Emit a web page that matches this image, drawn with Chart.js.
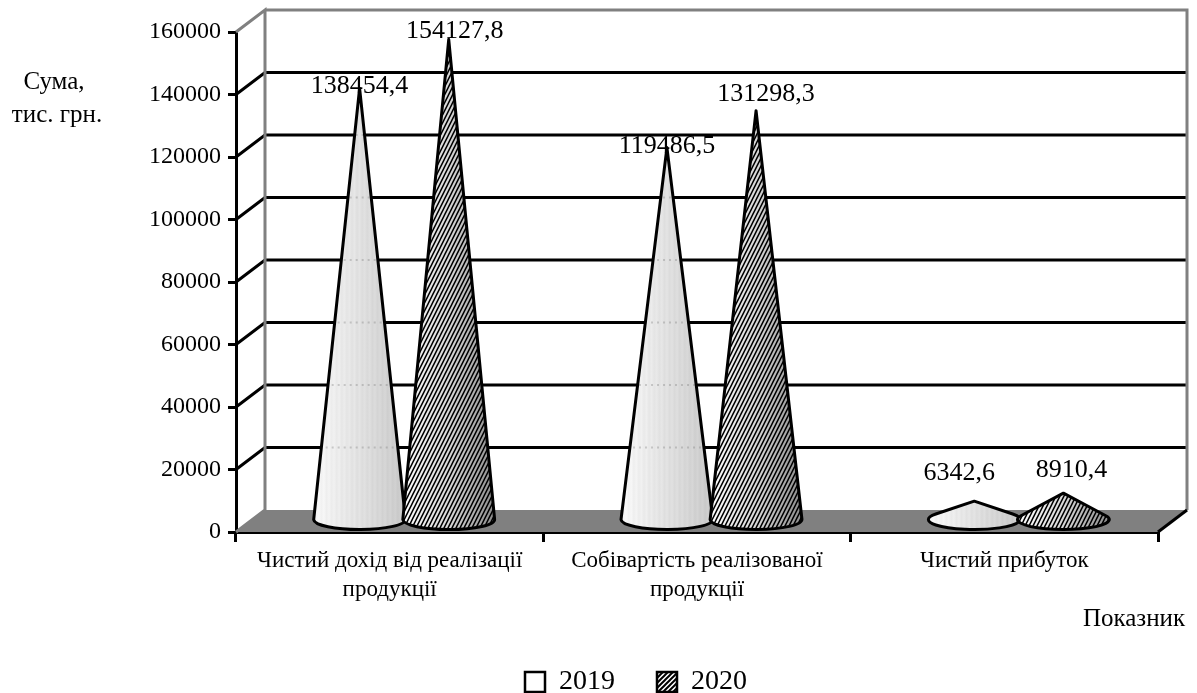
<!DOCTYPE html>
<html lang="uk">
<head>
<meta charset="UTF-8">
<title>Показники діяльності</title>
<script src="https://cdn.jsdelivr.net/npm/chart.js"></script>
<style>
    html, body { margin: 0; padding: 0; background: #fff; }
    #wrap { position: relative; width: 1197px; height: 693px; }
</style>
</head>
<body>
<div id="wrap"><canvas id="chart" width="1197" height="693"></canvas></div>
<script>
const categories = [
    ['Чистий дохід від реалізації', 'продукції'],
    ['Собівартість реалізованої', 'продукції'],
    'Чистий прибуток'
];
const years = ['2019', '2020'];
const values2019 = [138454.4, 119486.5, 6342.6];
const values2020 = [154127.8, 131298.3, 8910.4];
const yTicksMax = 160000;
const yTicksStep = 20000;

// where the value captions sit relative to the cone tip
const captionShift = [
    [[0, -2], [0, -1], [-15, -28]],
    [[6, -8], [10, -17], [8, -23]]
];

const SERIF = '"Liberation Serif", "Times New Roman", serif';
const DEPTH_X = 29, DEPTH_Y = 22;

function hatch(w, h, lineW) {
    const c = document.createElement('canvas');
    c.width = w;
    c.height = h;
    const g = c.getContext('2d');
    g.fillStyle = '#fff';
    g.fillRect(0, 0, w, h);
    g.strokeStyle = '#000';
    g.lineWidth = lineW;
    g.beginPath();
    g.moveTo(-w, 2 * h); g.lineTo(2 * w, -h);
    g.moveTo(-w, h); g.lineTo(w, -h);
    g.moveTo(0, 2 * h); g.lineTo(2 * w, 0);
    g.stroke();
    return c;
}

const ctx0 = document.getElementById('chart').getContext('2d');
const coneHatch = ctx0.createPattern(hatch(4, 8, 1.5), 'repeat');
const legendHatch = ctx0.createPattern(hatch(5, 5, 2), 'repeat');

// outline of a cone: sides run tangent to the base ellipse
function conePath(ctx, cx, tip, baseY, rx, ry) {
    const h = baseY - tip;
    const t = Math.asin(Math.min(ry / h, 1));
    ctx.beginPath();
    ctx.moveTo(cx, tip);
    ctx.ellipse(cx, baseY, rx, ry, 0, -t, Math.PI + t);
    ctx.closePath();
}

function drawCone(ctx, bar, dark, gridYs) {
    const cx = bar.x + DEPTH_X / 2;
    const tip = bar.y - DEPTH_Y / 2;
    const baseY = bar.base - DEPTH_Y / 2;
    const rx = bar.width / 2, ry = 10;
    const g = ctx.createLinearGradient(cx - rx, 0, cx + rx, 0);
    ctx.save();
    conePath(ctx, cx, tip, baseY, rx, ry);
    if (dark) {
        ctx.fillStyle = coneHatch;
        ctx.fill();
        g.addColorStop(0, 'rgba(0,0,0,0)');
        g.addColorStop(0.5, 'rgba(0,0,0,0.15)');
        g.addColorStop(1, 'rgba(0,0,0,0.45)');
    } else {
        // fine vertical banding of the shaded surface
        const bands = 36;
        for (let k = 0; k <= bands; k++) {
            const f = k / bands;
            const shade = Math.round(252 - 48 * f - (k % 2 ? 7 : 0));
            g.addColorStop(f, `rgb(${shade},${shade},${shade})`);
        }
    }
    ctx.fillStyle = g;
    ctx.fill();

    // wall lines showing faintly through the surface
    if (!dark) {
        ctx.save();
        ctx.clip();
        ctx.strokeStyle = 'rgba(110,110,110,0.3)';
        ctx.lineWidth = 2;
        ctx.setLineDash([2, 4]);
        gridYs.forEach(y => {
            ctx.beginPath();
            ctx.moveTo(cx - rx, y);
            ctx.lineTo(cx + rx, y);
            ctx.stroke();
        });
        ctx.restore();
    }

    conePath(ctx, cx, tip, baseY, rx, ry);
    ctx.strokeStyle = '#000';
    ctx.lineWidth = 3;
    ctx.lineJoin = 'round';
    ctx.stroke();
    ctx.restore();
}

function wallLines(y) {
    const out = [];
    for (let v = yTicksStep; v < yTicksMax; v += yTicksStep) {
        out.push(y.getPixelForValue(v) - DEPTH_Y);
    }
    return out;
}

// back wall, side wall and floor behind the cones
const roomPlugin = {
    id: 'room',
    beforeDraw(chart) {
        // legend row sits lower than its padded layout box
        chart.legend.top = 626;
    },
    beforeDatasetsDraw(chart) {
        const { ctx, chartArea: a, scales: { y } } = chart;
        const dx = DEPTH_X, dy = DEPTH_Y;
        ctx.save();

        ctx.fillStyle = '#808080';
        ctx.beginPath();
        ctx.moveTo(a.left, a.bottom);
        ctx.lineTo(a.left + dx, a.bottom - dy);
        ctx.lineTo(a.right + dx, a.bottom - dy);
        ctx.lineTo(a.right, a.bottom);
        ctx.closePath();
        ctx.fill();

        ctx.strokeStyle = '#000';
        ctx.lineWidth = 3;
        for (let v = yTicksStep; v < yTicksMax; v += yTicksStep) {
            const p = y.getPixelForValue(v);
            ctx.beginPath();
            ctx.moveTo(a.left, p);
            ctx.lineTo(a.left + dx, p - dy);
            ctx.lineTo(a.right + dx, p - dy);
            ctx.stroke();
        }

        ctx.strokeStyle = '#808080';
        ctx.beginPath();
        ctx.moveTo(a.left, a.bottom);
        ctx.lineTo(a.left + dx, a.bottom - dy);
        ctx.lineTo(a.left + dx, a.top - dy);
        ctx.lineTo(a.left, a.top);
        ctx.moveTo(a.left + dx, a.top - dy);
        ctx.lineTo(a.right + dx, a.top - dy);
        ctx.lineTo(a.right + dx, a.bottom - dy);
        ctx.stroke();

        ctx.strokeStyle = '#000';
        ctx.beginPath();
        ctx.moveTo(a.right + dx, a.bottom - dy);
        ctx.lineTo(a.right, a.bottom);
        ctx.stroke();
        ctx.restore();
    },
    // the bars themselves are replaced by cones below
    beforeDatasetDraw() {
        return false;
    },
    afterDatasetsDraw(chart) {
        const { ctx, scales: { y } } = chart;
        const gridYs = wallLines(y);
        chart.data.datasets.forEach((ds, i) => {
            chart.getDatasetMeta(i).data.forEach(bar => drawCone(ctx, bar, i === 1, gridYs));
        });

        ctx.save();
        ctx.fillStyle = '#000';
        ctx.textAlign = 'center';
        ctx.textBaseline = 'middle';
        ctx.font = '26px ' + SERIF;
        chart.data.datasets.forEach((ds, i) => {
            chart.getDatasetMeta(i).data.forEach((bar, j) => {
                const s = captionShift[i][j];
                const text = ds.data[j].toFixed(1).replace('.', ',');
                ctx.fillText(text, bar.x + DEPTH_X / 2 + s[0], bar.y - DEPTH_Y / 2 + s[1]);
            });
        });

        // axis captions
        ctx.font = '25px ' + SERIF;
        ctx.fillText('Сума,', 54, 82);
        ctx.fillText('тис. грн.', 57, 115);
        ctx.fillText('Показник', 1134, 619);
        ctx.restore();
    }
};

new Chart(ctx0, {
    type: 'bar',
    data: {
        labels: categories,
        datasets: [
            { label: years[0], data: values2019, backgroundColor: '#fff', borderColor: '#000', borderWidth: 2.5 },
            { label: years[1], data: values2020, backgroundColor: legendHatch, borderColor: '#000', borderWidth: 2.5 }
        ]
    },
    options: {
        responsive: false,
        animation: false,
        categoryPercentage: 0.58,
        barPercentage: 1.03,
        layout: { padding: { left: 114, right: 39, top: 32, bottom: 0 } },
        plugins: {
            tooltip: { enabled: false },
            legend: {
                position: 'bottom',
                labels: {
                    color: '#000',
                    boxWidth: 20,
                    boxHeight: 20,
                    padding: 42,
                    font: { family: SERIF, size: 28 }
                }
            }
        },
        scales: {
            x: {
                afterFit(scale) { scale.height = 81; },
                border: { color: '#000', width: 3 },
                grid: { drawOnChartArea: false, color: '#000', lineWidth: 3, tickLength: 10 },
                ticks: {
                    color: '#000',
                    padding: 4,
                    maxRotation: 0,
                    autoSkip: false,
                    font: { family: SERIF, size: 23, lineHeight: 1.26 }
                }
            },
            y: {
                min: 0,
                max: yTicksMax,
                afterFit(scale) { scale.width = 122; },
                border: { color: '#000', width: 3 },
                grid: { drawOnChartArea: false, color: '#000', lineWidth: 3, tickLength: 8 },
                ticks: {
                    stepSize: yTicksStep,
                    color: '#000',
                    padding: 7,
                    callback: v => String(v),
                    font: { family: SERIF, size: 24 }
                }
            }
        }
    },
    plugins: [roomPlugin]
});
</script>
</body>
</html>
